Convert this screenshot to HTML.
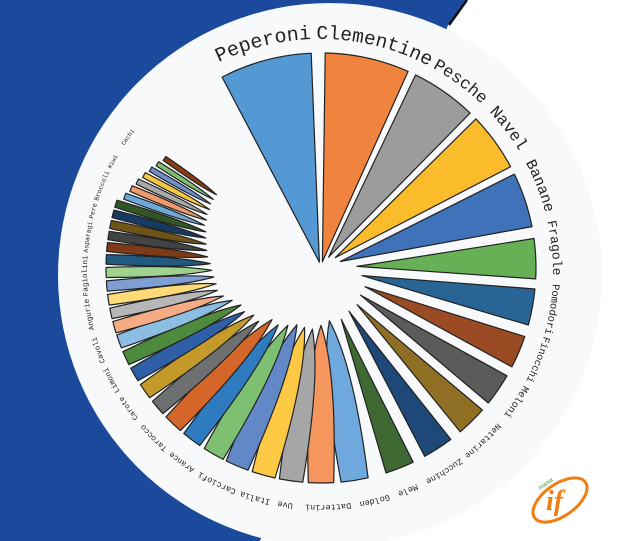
<!DOCTYPE html>
<html><head><meta charset="utf-8">
<style>
html,body{margin:0;padding:0;background:#fff;}
svg{display:block;}
.l{font-family:"Liberation Mono",monospace;fill:#222;}
</style></head>
<body>
<svg id="s" width="618" height="541" viewBox="0 0 618 541" xmlns="http://www.w3.org/2000/svg">
<polygon points="0,0 467,0 448,25 260,541 0,541" fill="#1b4a9c"/>
<line x1="467" y1="0" x2="449" y2="25" stroke="#111" stroke-width="2.5"/>
<circle cx="330" cy="275" r="272" fill="#f8f9fb"/>
<g id="w"></g>
<defs>
<path id="tp" d="M87,272 A233,233 0 1 1 553,272 A233,233 0 1 1 87,272 A233,233 0 1 1 553,272 A233,233 0 1 1 87,272"/>
</defs>
<g class="l" text-anchor="middle">
<text font-size="20"><textPath href="#tp" startOffset="309.1">Peperoni</textPath></text>
<text font-size="19.5"><textPath href="#tp" startOffset="420.9">Clementine</textPath></text>
<text font-size="17"><textPath href="#tp" startOffset="514">Pesche</textPath></text>
<text font-size="16.5"><textPath href="#tp" startOffset="580">Navel</textPath></text>
<text font-size="15"><textPath href="#tp" startOffset="645">Banane</textPath></text>
<text font-size="13"><textPath href="#tp" startOffset="708">Fragole</textPath></text>
<text font-size="10.5"><textPath href="#tp" startOffset="769">Pomodori</textPath></text>
<text font-size="10"><textPath href="#tp" startOffset="821">Finocchi</textPath></text>
<text font-size="10"><textPath href="#tp" startOffset="868">Meloni</textPath></text>
<text font-size="8.5"><textPath href="#tp" startOffset="919.1">Nettarine</textPath></text>
<text font-size="8.5"><textPath href="#tp" startOffset="967.9">Zucchine</textPath></text>
<text font-size="8.5"><textPath href="#tp" startOffset="1008.5">Mele</textPath></text>
<text font-size="8.5"><textPath href="#tp" startOffset="1043.1">Golden</textPath></text>
<text font-size="8.5"><textPath href="#tp" startOffset="1089.8">Datterini</textPath></text>
<text font-size="8.5"><textPath href="#tp" startOffset="1132.5">Uve</textPath></text>
<text font-size="8.5"><textPath href="#tp" startOffset="1163.0">Italia</textPath></text>
<text font-size="8.5"><textPath href="#tp" startOffset="1203.7">Carciofi</textPath></text>
<text font-size="8"><textPath href="#tp" startOffset="1244.4">Arance</textPath></text>
<text font-size="8"><textPath href="#tp" startOffset="1281.0">Tarocco</textPath></text>
<text font-size="7.5"><textPath href="#tp" startOffset="1319.6">Carote</textPath></text>
<text font-size="7.5"><textPath href="#tp" startOffset="1352.1">Limoni</textPath></text>
<text font-size="7.5"><textPath href="#tp" startOffset="1384.7">Cavoli</textPath></text>
<text font-size="7.5"><textPath href="#tp" startOffset="1421.3">Angurie</textPath></text>
<text font-size="7.5"><textPath href="#tp" startOffset="1459.9">Fagiolini</textPath></text>
<text font-size="6.5"><textPath href="#tp" startOffset="1498.6">Asparagi</textPath></text>
<text font-size="6.5"><textPath href="#tp" startOffset="1525.0">Pere</textPath></text>
<text font-size="6.5"><textPath href="#tp" startOffset="1551.4">Broccoli</textPath></text>
<text font-size="6"><textPath href="#tp" startOffset="1577.8">Kiwi</textPath></text>
<text font-size="6"><textPath href="#tp" startOffset="1606.3">Cachi</textPath></text>
</g>
<g transform="translate(560,500)">
<ellipse cx="0" cy="0" rx="31" ry="16" transform="rotate(-35)" fill="none" stroke="#f07d12" stroke-width="3"/>
<text x="-14" y="10" font-family="Liberation Serif,serif" font-style="italic" font-weight="bold" font-size="28" fill="#f07d12">if</text>
<text x="-20" y="-10" font-family="Liberation Sans,sans-serif" font-style="italic" font-size="6" fill="#3a9a3a" transform="rotate(-35 -20 -10)">mania</text>
</g>
</svg>
<script>
var W=[[-15,26,'#5499d3'],[12.5,24,'#f0843e'],[35,19,'#9c9c9c'],[54,17,'#fbbc2c'],[71.5,16,'#3f72b8'],[87.5,12,'#68b055'],[100.5,11,'#286595'],[113,10,'#9a4b23'],[124.5,10,'#5b5b5b'],[135.5,9.5,'#8f6f23'],[147,9.5,'#1e4878'],[158.5,9,'#3e6932'],[171,8.5,'#6fa8dc'],[180,8,'#f4965e'],[188,7.5,'#a6a6a6'],[195.5,7.5,'#fdc843'],[203,7.5,'#6288c8'],[210,7,'#7dc071'],[217,6.5,'#2e7bc0'],[223.5,6.5,'#d4662a'],[229.5,5.5,'#6d6f70'],[235,5.5,'#c49a2a'],[240.3,5,'#2f5fa6'],[245.2,5,'#4e8a3d'],[250,4.5,'#8cbde3'],[254,4,'#f5ab83'],[257.8,3.7,'#b7b7b7'],[261.5,3.7,'#fdd978'],[265.2,3.6,'#7f9fd4'],[268.8,3.5,'#9ed28e'],[272.3,3.4,'#225981'],[275.6,3.2,'#7d3b17'],[278.7,3.1,'#434343'],[281.7,3,'#6e5517'],[284.6,2.9,'#173a63'],[287.4,2.8,'#325526'],[290.1,2.6,'#6ea8d8'],[292.7,2.6,'#f09a6c'],[295.2,2.5,'#a8a8a8'],[297.7,2.5,'#f5c842'],[300.1,2.4,'#6f8fcf'],[302.5,2.4,'#7dbf6e'],[305,2.4,'#8c3d16']];
var cx=321,cy=268,g=document.getElementById('w'),s='';
function f(v){return v.toFixed(1);}
W.forEach(function(d,i){
 var t=d[0]*Math.PI/180,w=d[1],R=i<36?215:209-(i-36)*3;
 var gap=w<5?3.2:4.5;
 var hw=(2*R*Math.sin(w*Math.PI/360)-gap)/2;
 var ri=Math.max(6,200*Math.exp(-w/7));
 if(w<9) ri=Math.max(45,ri*0.9);
 var ux=Math.sin(t),uy=-Math.cos(t),px=Math.cos(t),py=Math.sin(t);
 var rr=Math.sqrt(R*R-hw*hw);
 var tx=cx+ri*ux,ty=cy+ri*uy;
 var ax=cx+rr*ux-hw*px,ay=cy+rr*uy-hw*py,bx=cx+rr*ux+hw*px,by=cy+rr*uy+hw*py;
 var path;
 if(w<9){
  var rm=ri+(R-ri)*0.3, h2=hw*1.25;
  var c1x=cx+rm*ux-h2*px,c1y=cy+rm*uy-h2*py,c2x=cx+rm*ux+h2*px,c2y=cy+rm*uy+h2*py;
  path='M'+f(tx)+','+f(ty)+' Q'+f(c1x)+','+f(c1y)+' '+f(ax)+','+f(ay)+' A'+R+','+R+' 0 0 1 '+f(bx)+','+f(by)+' Q'+f(c2x)+','+f(c2y)+' '+f(tx)+','+f(ty)+' Z';
 } else {
  path='M'+f(tx)+','+f(ty)+' L'+f(ax)+','+f(ay)+' A'+R+','+R+' 0 0 1 '+f(bx)+','+f(by)+' Z';
 }
 s+='<path d="'+path+'" fill="'+d[2]+'" stroke="#222" stroke-width="1.2" stroke-linejoin="round"/>';
});
g.innerHTML=s;
</script>
</body></html>
